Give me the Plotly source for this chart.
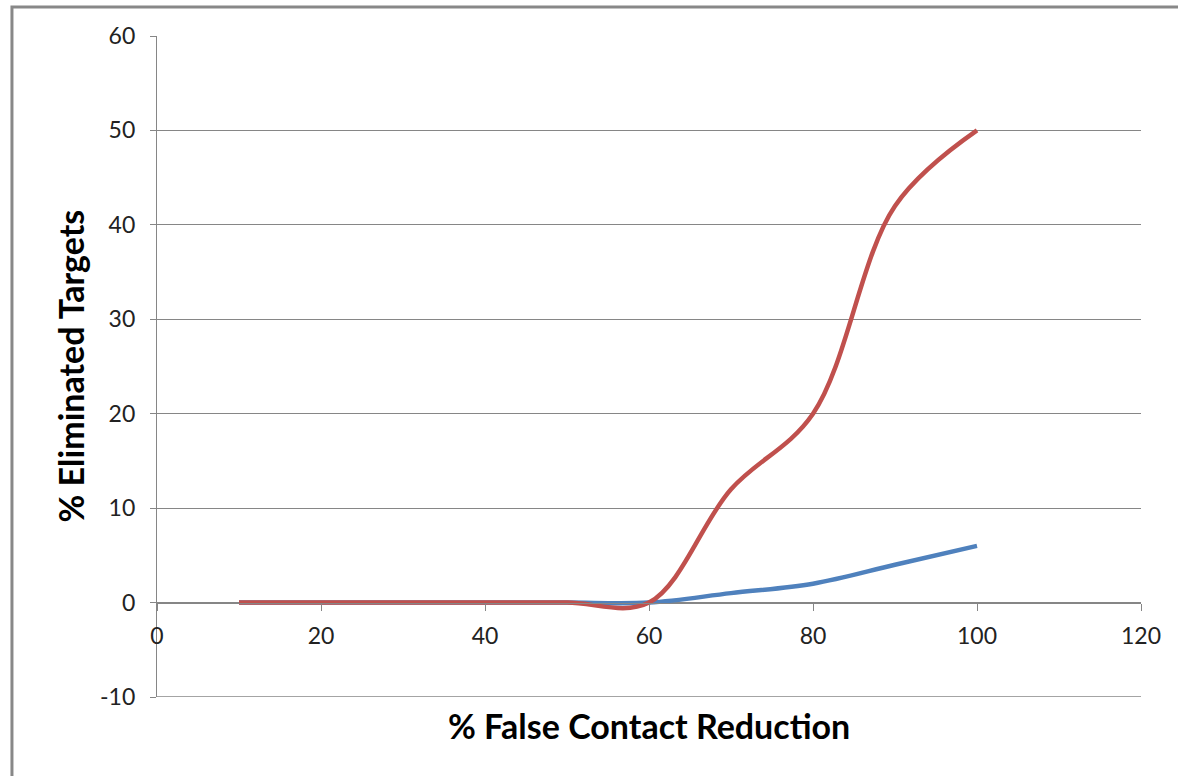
import plotly.graph_objects as go

# Data
x_values = [10, 20, 30, 40, 50, 60, 70, 80, 90, 100]
red_series = [0, 0, 0, 0, 0, 0, 12, 20, 42, 50]
blue_series = [0, 0, 0, 0, 0, 0, 1, 2, 4, 6]

y_tick_values = [-10, 0, 10, 20, 30, 40, 50, 60]
y_tick_labels = ["-10", "0", "10", "20", "30", "40", "50", "60"]

x_title = "% False Contact Reduction"
y_title = "% Eliminated Targets"
y_min, y_max = -10, 60

RED = "#C0504D"
BLUE = "#4F81BD"
GRID = "#868686"
FONT = "Lato"

fig = go.Figure()
fig.add_trace(go.Scatter(x=x_values, y=blue_series, mode="lines",
                         line=dict(color=BLUE, width=4.5, shape="spline", smoothing=1),
                         showlegend=False, hoverinfo="skip"))
fig.add_trace(go.Scatter(x=x_values, y=red_series, mode="lines",
                         line=dict(color=RED, width=4.5, shape="spline", smoothing=1),
                         showlegend=False, hoverinfo="skip"))

fig.update_layout(
    width=1178, height=776,
    margin=dict(l=157, r=37, t=36, b=79, pad=0),
    paper_bgcolor="white", plot_bgcolor="white",
    font=dict(family=FONT, color="#222222", size=22),
    xaxis=dict(range=[0, 120], dtick=20, tick0=0,
               showgrid=False, zeroline=False,
               showline=True, linecolor=GRID, linewidth=1.3,
               ticks="outside", ticklen=7, tickcolor=GRID, tickwidth=1.3,
               ticklabelstandoff=6,
               anchor="free", position=1/7,
               tickfont=dict(family=FONT, size=23, color="#222222"),
               title=None),
    yaxis=dict(range=[y_min, y_max], tickmode="array",
               tickvals=y_tick_values, ticktext=y_tick_labels,
               showgrid=True, gridcolor=GRID, gridwidth=1.3,
               zeroline=False,
               showline=True, linecolor=GRID, linewidth=1.3,
               ticks="outside", ticklen=6, tickcolor=GRID, tickwidth=1.3,
               ticklabelstandoff=10,
               tickfont=dict(family=FONT, size=23, color="#222222"),
               title=None),
    shapes=[
        # chart-area border
        dict(type="rect", xref="paper", yref="paper",
             x0=-0.1474, x1=1.2, y0=-0.3, y1=1.0439,
             line=dict(color="#888888", width=3), fillcolor="rgba(0,0,0,0)",
             layer="below"),
        # bottom gridline (Plotly hides the one on the plot edge)
        dict(type="line", xref="paper", yref="y",
             x0=0, x1=1, y0=y_min, y1=y_min,
             line=dict(color=GRID, width=1.3), layer="below"),
    ],
    annotations=[
        dict(text="<b>%s</b>" % x_title, xref="paper", yref="paper",
             x=0.5, y=-0.0424, xanchor="center", yanchor="middle",
             showarrow=False, font=dict(family=FONT, size=34, color="black")),
        dict(text="<b>%s</b>" % y_title, xref="paper", yref="paper",
             x=-0.0884, y=0.5, xanchor="center", yanchor="middle", textangle=-90,
             showarrow=False, font=dict(family=FONT, size=34, color="black")),
    ],
)

fig.write_html("out.html")
